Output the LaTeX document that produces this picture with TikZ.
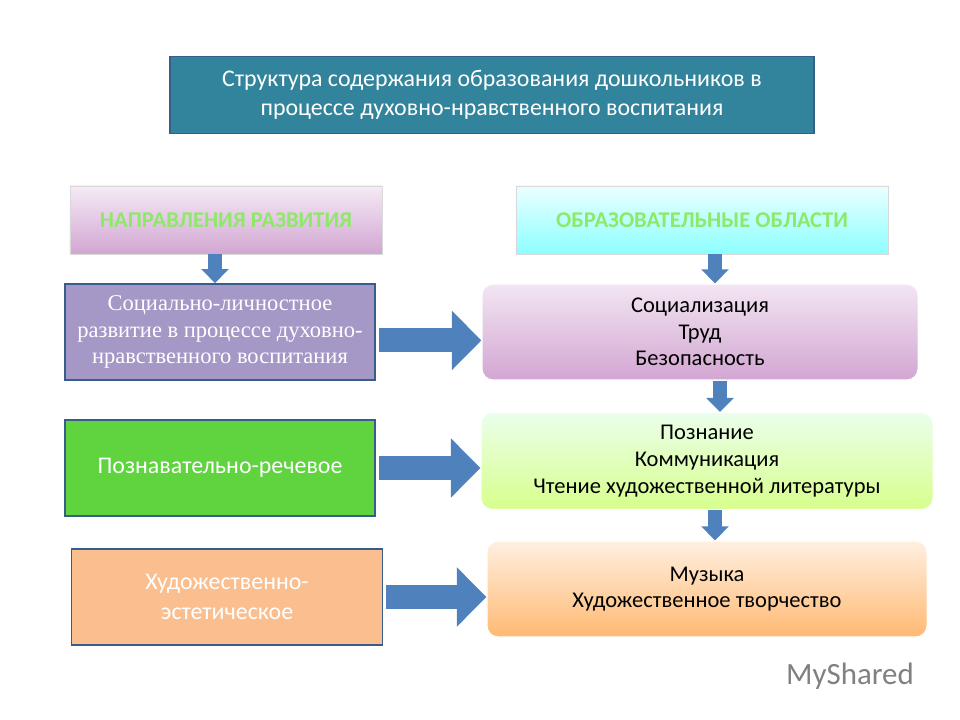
\documentclass[tikz,border=0pt]{standalone}
\usepackage{fontspec}
\setmainfont{Carlito}
\newfontfamily\serifru{Liberation Serif}
\usetikzlibrary{arrows.meta, positioning}

\definecolor{teal1}{HTML}{31849B}
\definecolor{arrowblue}{HTML}{4F81BD}
\definecolor{edgeblue}{HTML}{385D8A}
\definecolor{purplebox}{HTML}{A597C6}
\definecolor{greenbox}{HTML}{5FD43F}
\definecolor{orangebox}{HTML}{FBBF8F}
\definecolor{headgreen}{HTML}{8EE86A}

\tikzset{
  box/.style={draw=edgeblue, line width=1.2pt, align=center, inner sep=2pt},
  soft/.style={box, draw=white, line width=0.8pt, rounded corners=8pt},
  fatarrow/.style={arrowblue, line width=17pt, -{Triangle[width=41pt, length=21pt]}, shorten <=2pt},
  thinarrow/.style={arrowblue, line width=10pt, -{Triangle[width=19pt, length=10pt]}}
}

\begin{document}
\begin{tikzpicture}[x=0.025cm, y=-0.025cm]
    \useasboundingbox (0,0) rectangle (960,720);

    % Title
    \node[box, fill=teal1, text=white, minimum width=16.1cm, minimum height=1.92cm, font=\fontsize{17}{21}\selectfont] (title) at (492,95)
        {Структура содержания образования дошкольников в\\процессе духовно-нравственного воспитания};

    % Headers
    \node[box, draw=white!70!gray, line width=0.6pt, top color=violet!8!white, bottom color=violet!35!white, minimum width=7.8cm, minimum height=1.7cm, font=\fontsize{16}{19}\selectfont\bfseries, text=headgreen] (hleft) at (226,220)
        {НАПРАВЛЕНИЯ РАЗВИТИЯ};
    \node[box, draw=white!70!gray, line width=0.6pt, top color=cyan!8!white, bottom color=cyan!45!white, minimum width=9.3cm, minimum height=1.7cm, font=\fontsize{16}{19}\selectfont\bfseries, text=headgreen] (hright) at (702,220)
        {ОБРАЗОВАТЕЛЬНЫЕ ОБЛАСТИ};

    % Directions
    \node[box, fill=purplebox, text=white, minimum width=7.75cm, minimum height=2.4cm, font=\serifru\fontsize{16}{19}\selectfont] (social) at (220,332)
        {Социально-личностное\\развитие в процессе духовно-\\нравственного воспитания};
    \node[box, fill=greenbox, text=white, minimum width=7.75cm, minimum height=2.4cm, font=\fontsize{17}{21}\selectfont] (cogn) at (220,468)
        {Познавательно-речевое};
    \node[box, fill=orangebox, text=white, minimum width=7.78cm, minimum height=2.4cm, font=\fontsize{17}{21}\selectfont] (art) at (227,597)
        {Художественно-\\эстетическое};

    % Areas
    \node[soft, top color=violet!10!white, bottom color=violet!35!white, minimum width=10.9cm, minimum height=2.4cm, font=\fontsize{16}{19}\selectfont] (area1) at (700,332)
        {Социализация\\Труд\\Безопасность};
    \node[soft, top color=green!8!white, bottom color=green!35!yellow!45!white, minimum width=11.3cm, minimum height=2.42cm, font=\fontsize{16}{19}\selectfont] (area2) at (707,461)
        {Познание\\Коммуникация\\Чтение художественной литературы};
    \node[soft, top color=orange!12!white, bottom color=orange!55!white, minimum width=11cm, minimum height=2.4cm, font=\fontsize{16}{19}\selectfont] (area3) at (707,589)
        {Музыка\\Художественное творчество};

    % Arrows
    \draw[thinarrow] (hleft.south -| 215,0) -- (social.north -| 215,0);
    \draw[thinarrow] (hright.south -| 715,0) -- (area1.north -| 715,0);
    \draw[thinarrow] (area1.south -| 720,0) -- (area2.north -| 720,0);
    \draw[thinarrow] (area2.south -| 715,0) -- (area3.north -| 715,0);
    \draw[fatarrow] ([yshift=-6pt]social.east) -- ([yshift=-6pt]social.east -| area1.west);
    \draw[fatarrow] (cogn.east) -- (cogn.east -| area2.west);
    \draw[fatarrow] (art.east) -- (art.east -| area3.west);

    % Watermark
    \node[text=gray, font=\fontsize{22}{24}\selectfont] (logo) at (850,676) {MyShared};
\end{tikzpicture}
\end{document}
